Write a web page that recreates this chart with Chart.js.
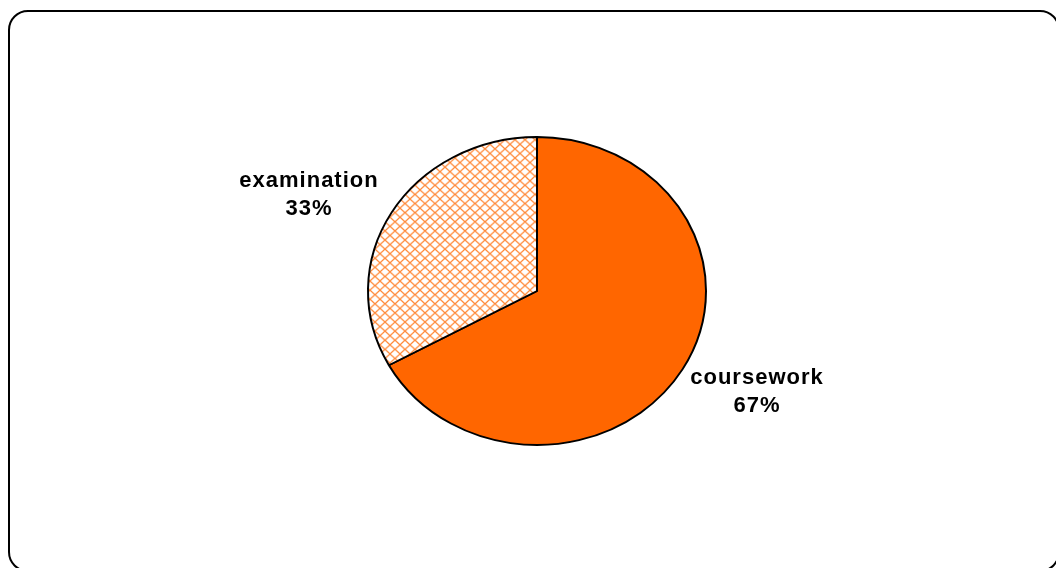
<!DOCTYPE html>
<html>
<head>
<meta charset="utf-8">
<script src="https://cdn.jsdelivr.net/npm/chart.js@4/dist/chart.umd.min.js"></script>
<style>
  html, body { margin: 0; padding: 0; background: #fff; overflow: hidden; }
  #wrap { position: relative; width: 1056px; height: 568px; }
  #frame { position: absolute; left: 8px; top: 10px; width: 1052px; height: 562px;
           border: 2px solid #000; border-radius: 20px; box-sizing: border-box; }
  #c { position: absolute; left: 0; top: 0; }
</style>
</head>
<body>
<div id="wrap">
  <div id="frame"></div>
  <canvas id="c" width="1056" height="568"></canvas>
</div>
<script>
const categories = ["coursework", "examination"];
const values = [67, 33];
const pctLabels = ["67%", "33%"];

function makePattern() {
  const p = document.createElement('canvas');
  p.width = 10; p.height = 10;
  const g = p.getContext('2d');
  g.fillStyle = '#ffffff';
  g.fillRect(0, 0, 10, 10);
  g.strokeStyle = '#FF8A3A';
  g.lineWidth = 1.3;
  g.beginPath();
  g.moveTo(-1, -1); g.lineTo(11, 11);
  g.moveTo(11, -1); g.lineTo(-1, 11);
  g.stroke();
  return g.createPattern(p, 'repeat');
}

const ctxEl = document.getElementById('c');
const pattern = makePattern();
const YSCALE = 154 / 169;

const squash = {
  id: 'squash',
  beforeDatasetsDraw(chart) {
    const a = chart.getDatasetMeta(0).data[0];
    const ctx = chart.ctx;
    ctx.save();
    ctx.translate(a.x, a.y);
    ctx.scale(1, YSCALE);
    ctx.translate(-a.x, -a.y);
  },
  afterDatasetsDraw(chart) {
    chart.ctx.restore();
  }
};

const labelPlugin = {
  id: 'sliceLabels',
  afterDraw(chart) {
    const a = chart.getDatasetMeta(0).data[0];
    const ctx = chart.ctx;
    // label anchor offsets relative to pie centre (layout only)
    const offs = [[220, 87], [-228, -110]];
    ctx.save();
    ctx.fillStyle = '#000';
    ctx.font = 'bold 22px "Liberation Sans", Arial, sans-serif';
    ctx.textAlign = 'center';
    ctx.textBaseline = 'middle';
    try { ctx.letterSpacing = '1px'; } catch (e) {}
    categories.forEach((c, i) => {
      const x = a.x + offs[i][0], y = a.y + offs[i][1];
      ctx.fillText(c, x, y);
      ctx.fillText(pctLabels[i], x, y + 28);
    });
    ctx.restore();
  }
};

new Chart(ctxEl, {
  type: 'pie',
  data: {
    labels: categories,
    datasets: [{
      data: values,
      backgroundColor: ['#FF6600', pattern],
      borderColor: '#000',
      borderWidth: 2,
      borderAlign: 'center'
    }]
  },
  options: {
    responsive: false,
    animation: false,
    radius: 169,
    layout: { padding: { left: 18, top: 14, right: 0, bottom: 0 } },
    plugins: { legend: { display: false }, tooltip: { enabled: false } }
  },
  plugins: [squash, labelPlugin]
});
</script>
</body>
</html>
